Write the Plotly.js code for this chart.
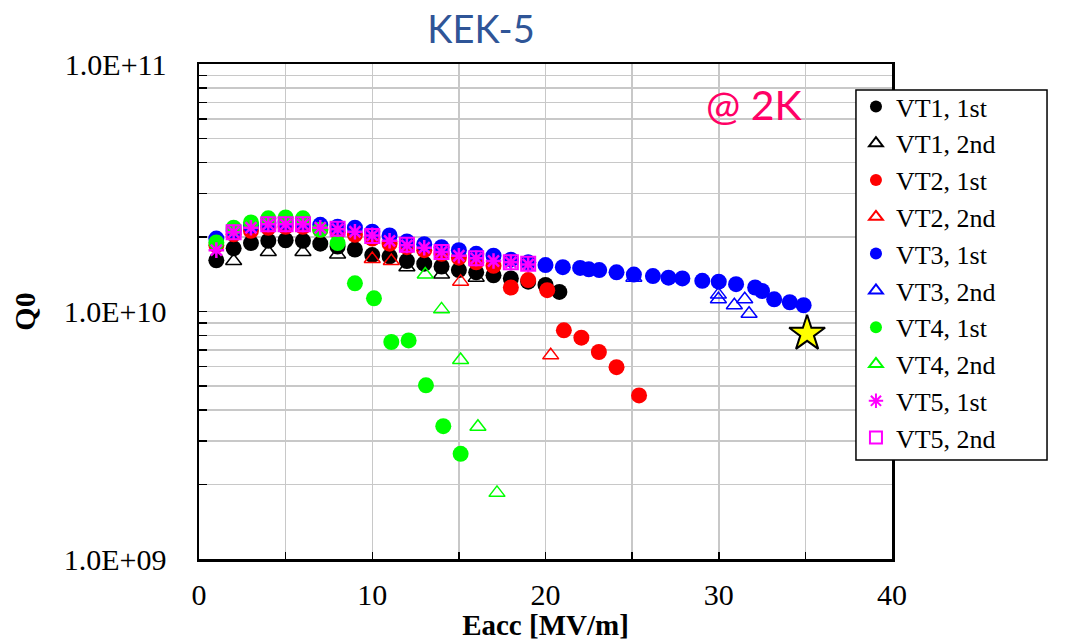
<!DOCTYPE html>
<html>
<head>
<meta charset="utf-8">
<script src="https://cdn.plot.ly/plotly-3.0.1.min.js"></script>
<style>html,body{margin:0;padding:0;background:#fff;}#chart{width:1069px;height:641px;}</style>
</head>
<body>
<div id="chart"></div>
<script>
// ---- data (Eacc in MV/m, Q0) ----
const VT1_1ST_X = [1,2,3,4,5,6,7,8,9,10,11,12,13,14,15,16,17,18,19,20,20.8];
const VT1_1ST_Q = [1.61e10,1.80e10,1.89e10,1.93e10,1.94e10,1.93e10,1.88e10,1.83e10,1.78e10,1.69e10,1.67e10,1.60e10,1.56e10,1.52e10,1.47e10,1.44e10,1.40e10,1.36e10,1.32e10,1.28e10,1.20e10];

const VT1_2ND_X = [2,4,6,8,12,14,16];
const VT1_2ND_Q = [1.60e10,1.74e10,1.74e10,1.70e10,1.51e10,1.41e10,1.37e10];

const VT2_1ST_X = [1,2,3,4,5,6,7,8,9,10,11,12,13,14,15,16,17,18,19,20.1,21.06,22.07,23.08,24.1,25.4];
const VT2_1ST_Q = [1.85e10,2.05e10,2.12e10,2.18e10,2.20e10,2.20e10,2.14e10,2.09e10,2.04e10,1.97e10,1.88e10,1.82e10,1.77e10,1.71e10,1.65e10,1.58e10,1.53e10,1.25e10,1.34e10,1.22e10,8.39e9,7.84e9,6.86e9,5.96e9,4.58e9];

const VT2_2ND_X = [10,11.1,15.1,20.3];
const VT2_2ND_Q = [1.63e10,1.60e10,1.32e10,6.65e9];

const VT3_1ST_X = [1,2,3,4,5,6,7,8,9,10,11,12,13,14,15,16,17,18,19,20,21,22,22.5,23.1,24.1,25.1,26.2,27.1,27.9,29.05,30,31,32.1,32.5,33.2,34.1,34.9];
const VT3_1ST_Q = [1.97e10,2.12e10,2.22e10,2.28e10,2.30e10,2.30e10,2.24e10,2.20e10,2.18e10,2.10e10,2.03e10,1.92e10,1.87e10,1.82e10,1.77e10,1.71e10,1.68e10,1.62e10,1.58e10,1.54e10,1.51e10,1.50e10,1.48e10,1.47e10,1.44e10,1.41e10,1.39e10,1.37e10,1.36e10,1.33e10,1.32e10,1.29e10,1.25e10,1.21e10,1.12e10,1.09e10,1.06e10];

const VT3_2ND_X = [25.1,29.98,29.98,30.9,31.5,31.75];
const VT3_2ND_Q = [1.37e10,1.17e10,1.12e10,1.06e10,1.12e10,9.8e9];

const VT4_1ST_X = [1,2,3,4,5,6,7,8,9,10.1,11.1,12.1,13.1,14.1,15.1];
const VT4_1ST_Q = [1.90e10,2.18e10,2.29e10,2.38e10,2.40e10,2.38e10,2.14e10,1.89e10,1.30e10,1.13e10,7.53e9,7.64e9,5.03e9,3.44e9,2.66e9];

const VT4_2ND_X = [13.06,14.0,15.1,16.1,17.2];
const VT4_2ND_Q = [1.41e10,1.02e10,6.37e9,3.42e9,1.85e9];

const VT5_1ST_X = [1,2,3,4,5,6,7,8,9,10,11,12,13,14,15,16,17,18,19];
const VT5_1ST_Q = [1.77e10,2.09e10,2.18e10,2.25e10,2.25e10,2.25e10,2.18e10,2.15e10,2.10e10,2.03e10,1.93e10,1.85e10,1.81e10,1.74e10,1.68e10,1.64e10,1.60e10,1.58e10,1.55e10];

const VT5_2ND_X = [2,4,5,6,8,10,12,14,16,18,19];
const VT5_2ND_Q = [2.09e10,2.25e10,2.25e10,2.25e10,2.16e10,2.02e10,1.86e10,1.74e10,1.64e10,1.58e10,1.56e10];

const STAR_X = [35.1];
const STAR_Q = [8.14e9];

const SERIES_NAMES = ["VT1, 1st","VT1, 2nd","VT2, 1st","VT2, 2nd","VT3, 1st","VT3, 2nd","VT4, 1st","VT4, 2nd","VT5, 1st","VT5, 2nd"];

const Y_TICKS = [1e9,1e10,1e11];
const Y_TICKTEXT = ["1.0E+09","1.0E+10","1.0E+11"];
const Y_MINOR = [2e9,3e9,4e9,5e9,6e9,7e9,8e9,9e9,2e10,3e10,4e10,5e10,6e10,7e10,8e10,9e10];
const X_TICKS = [0,10,20,30,40];

// ---- traces ----
function filled(name, x, y, color) {
  return {type:'scatter', mode:'markers', name:name, x:x, y:y,
    marker:{symbol:'circle', size:16, color:color, line:{width:0}}};
}
function openTri(name, x, y, color) {
  return {type:'scatter', mode:'markers', name:name, x:x, y:y,
    marker:{symbol:'triangle-up-open', size:14, color:color, line:{width:1.5, color:color}}};
}

const traces = [
  filled(SERIES_NAMES[0], VT1_1ST_X, VT1_1ST_Q, '#000000'),
  openTri(SERIES_NAMES[1], VT1_2ND_X, VT1_2ND_Q, '#000000'),
  filled(SERIES_NAMES[2], VT2_1ST_X, VT2_1ST_Q, '#FF0000'),
  openTri(SERIES_NAMES[3], VT2_2ND_X, VT2_2ND_Q, '#FF0000'),
  filled(SERIES_NAMES[4], VT3_1ST_X, VT3_1ST_Q, '#0000FF'),
  openTri(SERIES_NAMES[5], VT3_2ND_X, VT3_2ND_Q, '#0000FF'),
  filled(SERIES_NAMES[6], VT4_1ST_X, VT4_1ST_Q, '#00FF00'),
  openTri(SERIES_NAMES[7], VT4_2ND_X, VT4_2ND_Q, '#00FF00'),
  {type:'scatter', mode:'markers', name:SERIES_NAMES[8], x:VT5_1ST_X, y:VT5_1ST_Q,
    marker:{symbol:'asterisk-open', size:13, color:'#FF00FF', line:{width:2.5, color:'#FF00FF'}}},
  {type:'scatter', mode:'markers', name:SERIES_NAMES[9], x:VT5_2ND_X, y:VT5_2ND_Q,
    marker:{symbol:'square-open', size:14, color:'#FF00FF', line:{width:2, color:'#FF00FF'}}},
  {type:'scatter', mode:'markers', name:'star', showlegend:false, x:STAR_X, y:STAR_Q,
    marker:{symbol:'star', size:27, color:'#FFFF00', line:{width:2, color:'#000000'}}}
];

const serif = 'Liberation Serif, Times New Roman, serif';

const layout = {
  width:1069, height:641,
  margin:{l:199, r:177, t:64, b:82, pad:0},
  paper_bgcolor:'#ffffff', plot_bgcolor:'#ffffff',
  showlegend:true,
  title:{text:'KEK-5', x:0.45, xref:'container', xanchor:'center', y:0.953, yref:'container', yanchor:'middle',
    font:{family:'Lato, Open Sans, sans-serif', size:38, color:'#2F5597'}},
  xaxis:{
    type:'linear', range:[0,40], tickmode:'array', tickvals:X_TICKS,
    ticks:'inside', ticklen:7, tickwidth:1.5, tickcolor:'#000',
    showline:true, linecolor:'#000', linewidth:2.5, mirror:true,
    showgrid:true, gridcolor:'#C8C8C8', gridwidth:1.5, zeroline:false,
    minor:{dtick:5, ticks:'inside', ticklen:7, tickwidth:1.5, tickcolor:'#000', showgrid:true, gridcolor:'#C8C8C8', gridwidth:1.5},
    tickfont:{family:serif, size:30, color:'#000'},
    ticklabelstandoff:7,
    title:{text:'<b>Eacc [MV/m]</b>', font:{family:serif, size:29, color:'#000'}, standoff:2}
  },
  yaxis:{
    type:'log', range:[9,11], tickmode:'array', tickvals:Y_TICKS, ticktext:Y_TICKTEXT,
    ticks:'inside', ticklen:8, tickwidth:1.5, tickcolor:'#000',
    showline:true, linecolor:'#000', linewidth:2.5, mirror:true,
    showgrid:true, gridcolor:'#C0C0C0', gridwidth:1.5, zeroline:false,
    minor:{tickmode:'array', tickvals:Y_MINOR, ticks:'inside', ticklen:8, tickwidth:1.5, tickcolor:'#000', showgrid:true, gridcolor:'#C8C8C8', gridwidth:1.5},
    tickfont:{family:serif, size:30, color:'#000'},
    ticklabelstandoff:24,
    title:{text:'<b>Q0</b>', font:{family:serif, size:30, color:'#000'}, standoff:20}
  },
  legend:{
    x:0.948, xanchor:'left', y:0.9616, yanchor:'top', xref:'paper', yref:'paper',
    bgcolor:'rgba(0,0,0,0)', borderwidth:0,
    font:{family:serif, size:26, color:'#000'},
    tracegroupgap:0, itemsizing:'constant'
  },
  shapes:[
    {type:'rect', xref:'paper', yref:'paper', x0:0.948, x1:1.2237, y0:0.2, y1:0.9475,
     fillcolor:'#ffffff', line:{color:'#000', width:1.5}, layer:'above'}
  ],
  annotations:[
    {text:'@ 2K', xref:'paper', yref:'paper', x:0.802, y:0.918, xanchor:'center', yanchor:'middle',
     showarrow:false, font:{family:'Lato, Open Sans, sans-serif', size:41, color:'#FF0066'}}
  ]
};

Plotly.newPlot('chart', traces, layout, {staticPlot:true, displayModeBar:false});
</script>
</body>
</html>
